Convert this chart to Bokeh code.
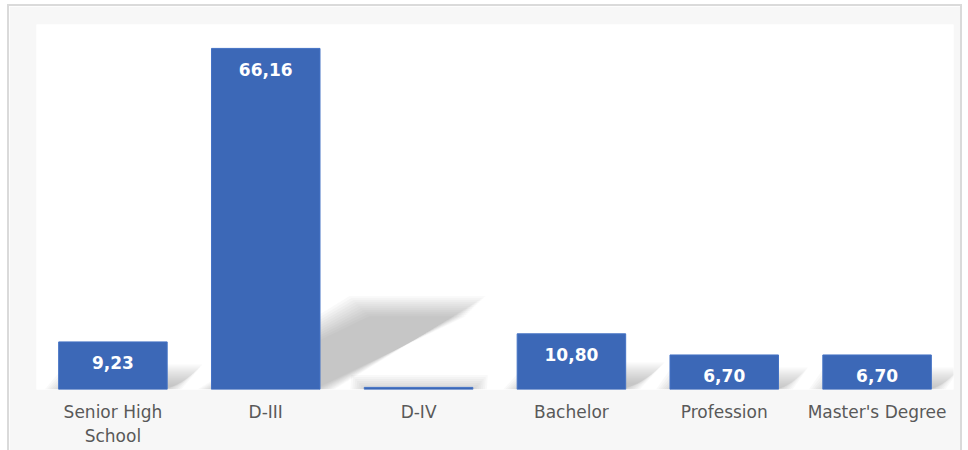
from bokeh.plotting import figure
from bokeh.models import ColumnDataSource, LabelSet, FixedTicker, Range1d
from bokeh.core.properties import value
from bokeh.embed import file_html
from bokeh.resources import INLINE

# ---- data ----
categories = ["Senior High\nSchool", "D-III", "D-IV", "Bachelor", "Profession", "Master's Degree"]
values = [9.23, 66.16, 0.41, 10.80, 6.70, 6.70]
label_texts = ["9,23", "66,16", "", "10,80", "6,70", "6,70"]

xs = list(range(len(categories)))
bar_w = 0.71
half = bar_w / 2

p = figure(width=951, height=444, output_backend="svg", toolbar_location=None,
           x_range=Range1d(-0.5, len(categories) - 0.5), y_range=Range1d(0, 70.8),
           min_border_left=27, min_border_right=7, min_border_top=18, min_border_bottom=61,
           background_fill_color="white", border_fill_color="#f7f7f7")
p.margin = (6, 8, 0, 9)
p.styles = {"outline": "2px solid #dadada"}
p.outline_line_color = None

# ---- perspective shadows (derived from values) ----
k = 0.232   # shadow height fraction
s = 0.015   # horizontal shift per unit
px_x = 153.0
px_y = 5.154
shadow_xs, shadow_ys = [], []
for e in range(-6, 16, 2):
    dx = e / px_x
    dy = e / px_y
    for i, v in zip(xs, values):
        shadow_xs.append([i - half - dx, i + half + dx, i + half + s * v + dx, i - half + s * v - dx])
        shadow_ys.append([0, 0, max(k * v + dy, 0), max(k * v + dy, 0)])
p.patches(shadow_xs, shadow_ys, fill_color="#6e6e6e", fill_alpha=0.045, line_color=None)

# ---- bars ----
src = ColumnDataSource(dict(x=xs, top=values, lab=label_texts))
p.vbar(x="x", top="top", width=bar_w, source=src, fill_color="#3c68b7", line_color="#4472c4", line_width=1)

labels = LabelSet(x="x", y="top", text="lab", source=src, y_offset=-21,
                  text_align="center", text_baseline="middle", text_color="white",
                  text_font=value("DejaVu Sans"), text_font_style="bold", text_font_size="17px")
p.add_layout(labels)

# ---- axes ----
p.yaxis.visible = False
p.xgrid.visible = False
p.ygrid.visible = False
p.xaxis.ticker = FixedTicker(ticks=xs)
p.xaxis.major_label_overrides = {i: c for i, c in zip(xs, categories)}
p.xaxis.axis_line_color = None
p.xaxis.major_tick_line_color = None
p.xaxis.minor_tick_line_color = None
p.xaxis.major_tick_out = 0
p.xaxis.major_tick_in = 0
p.xaxis.major_label_standoff = 12
p.xaxis.major_label_text_font = "DejaVu Sans"
p.xaxis.major_label_text_font_size = "17px"
p.xaxis.major_label_text_color = "#595959"

open("out.html", "w").write(file_html(p, INLINE))
